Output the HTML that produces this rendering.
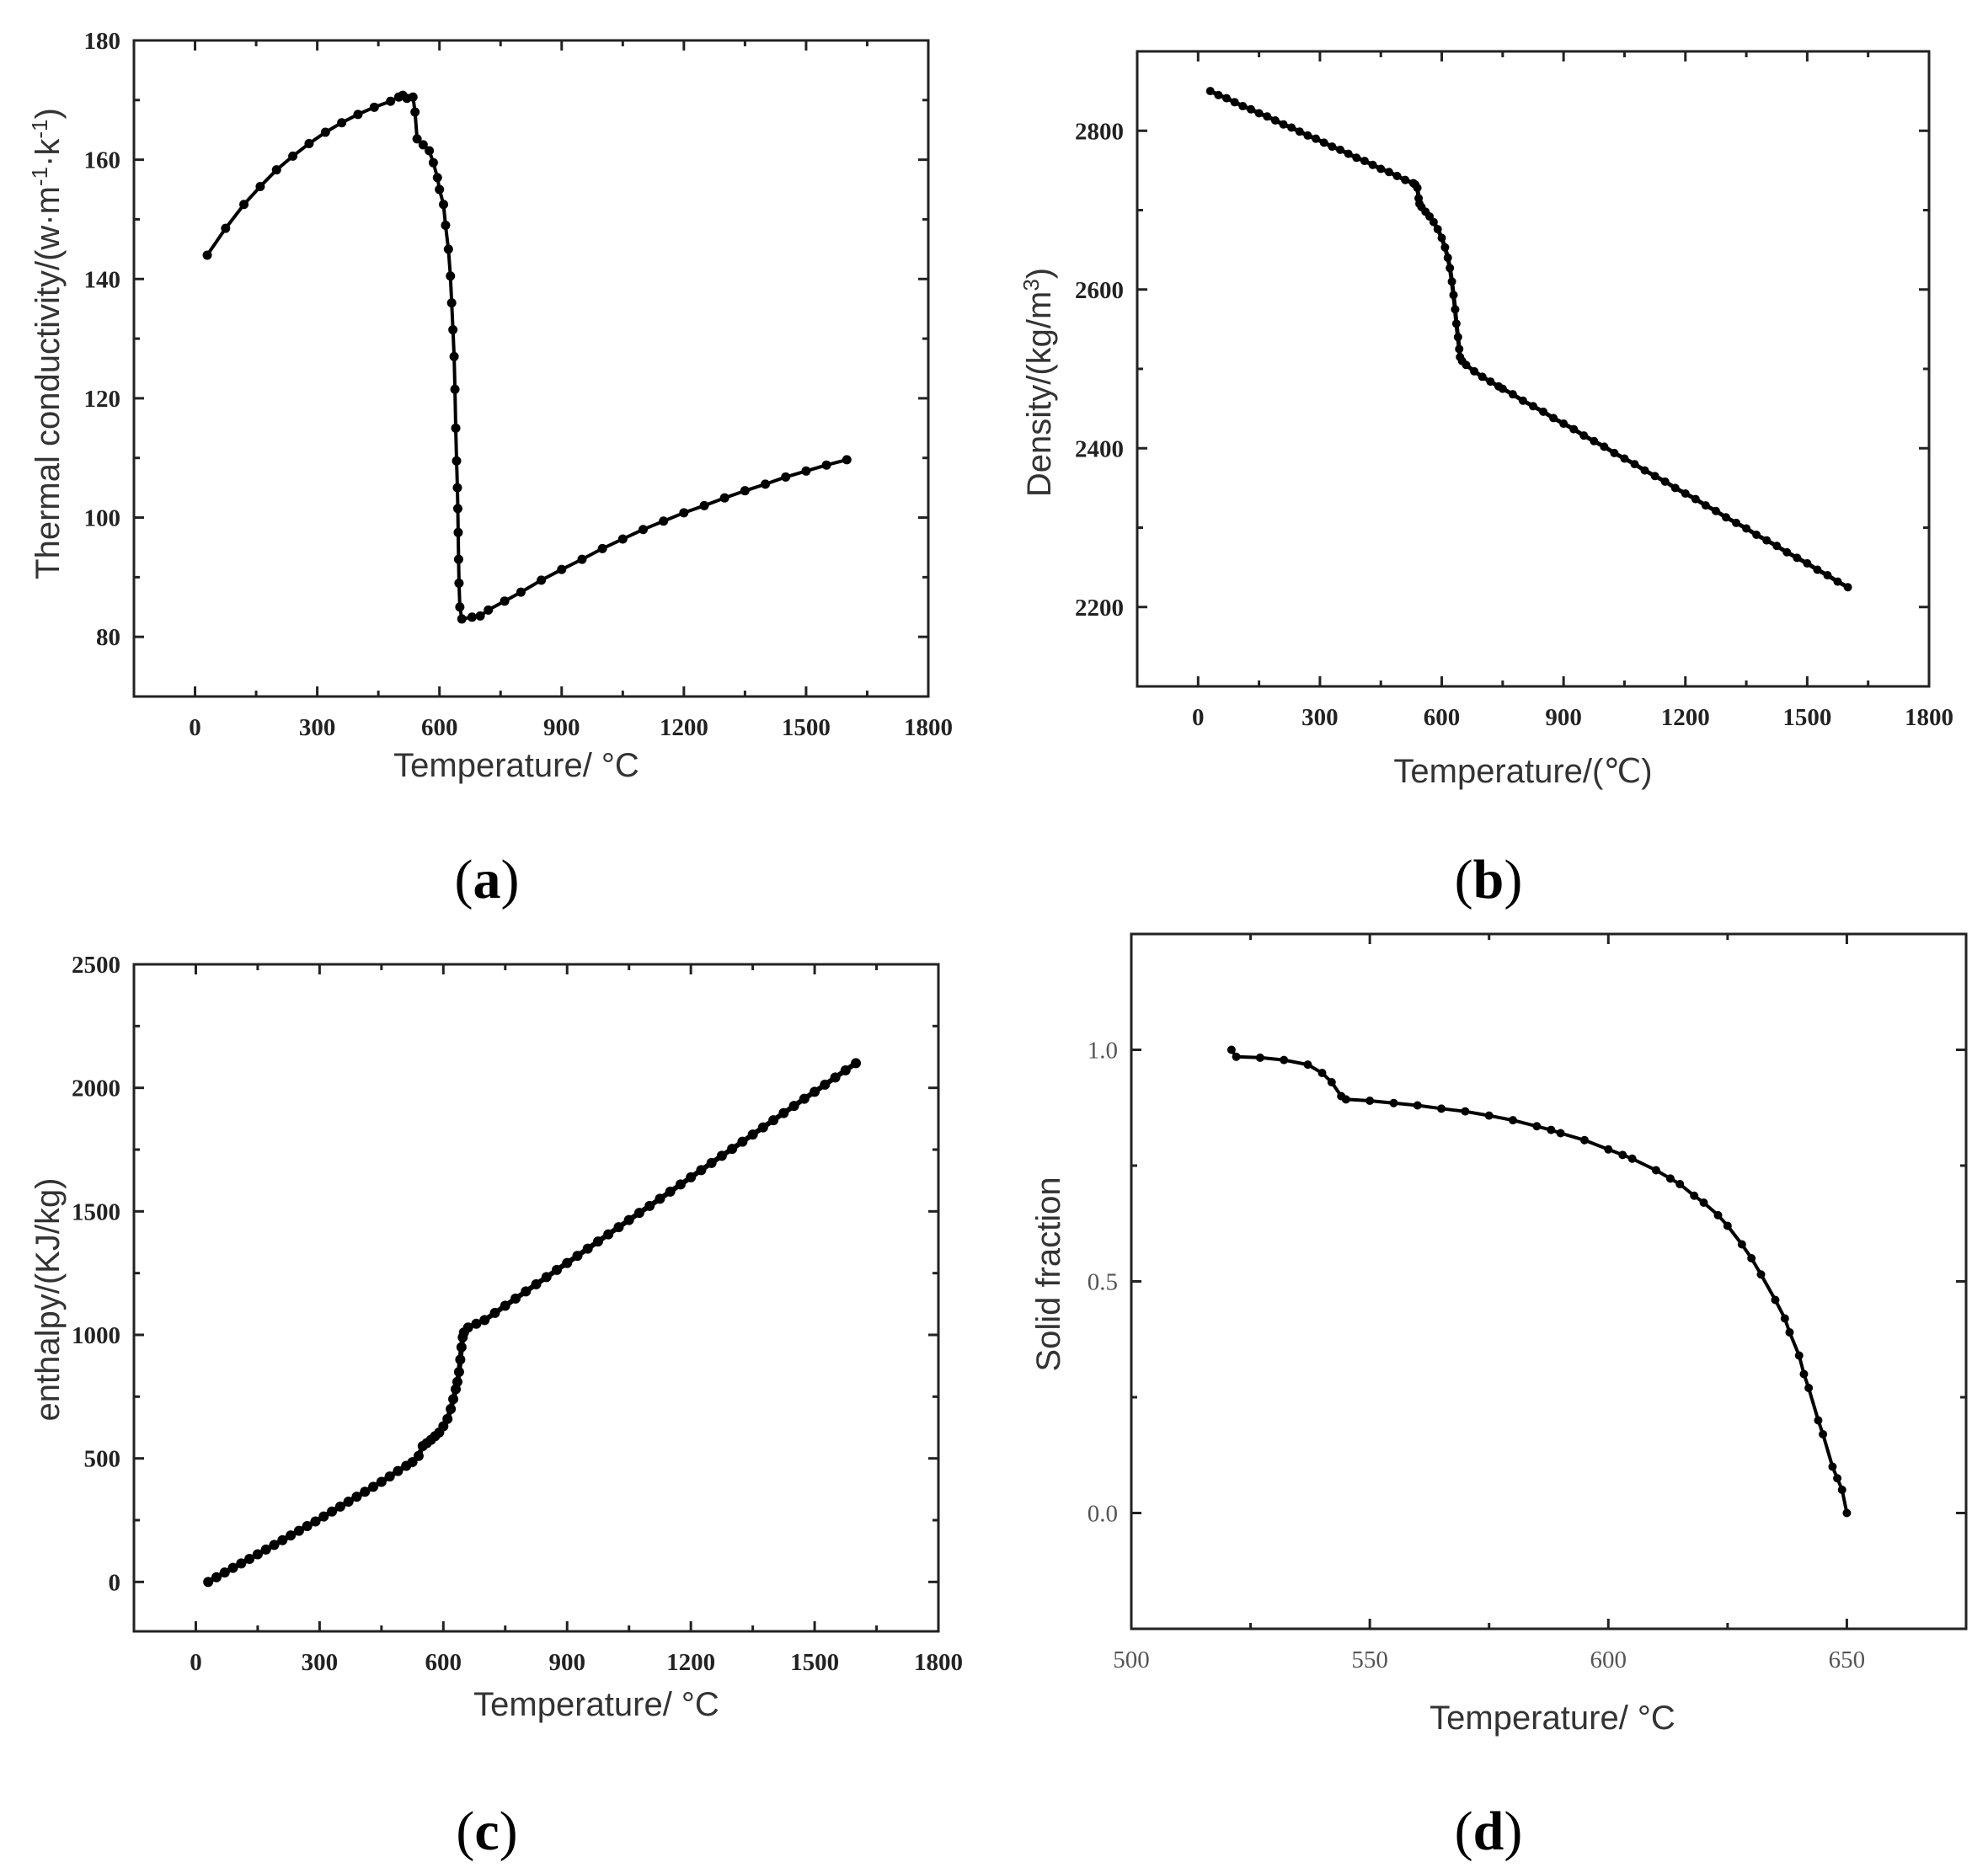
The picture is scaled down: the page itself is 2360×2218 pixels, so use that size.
<!DOCTYPE html>
<html><head><meta charset="utf-8">
<style>
html,body{margin:0;padding:0;background:#fff;}
svg{display:block;}
.tk{font-family:"Liberation Serif",serif;font-weight:bold;font-size:29px;fill:#222;}
.tkd{font-family:"Liberation Serif",serif;font-size:29px;fill:#555;}
.ttl{font-family:"Liberation Sans",sans-serif;font-size:40px;fill:#333;}
.lab{font-family:"Liberation Serif",serif;font-size:66px;fill:#000;}
</style></head>
<body>
<svg id="fig" width="2360" height="2218" viewBox="0 0 2360 2218" xmlns="http://www.w3.org/2000/svg">
<text class="lab" x="578" y="1066" text-anchor="middle">(<tspan font-weight="bold">a</tspan>)</text>
<text class="lab" x="1767" y="1066" text-anchor="middle">(<tspan font-weight="bold">b</tspan>)</text>
<text class="lab" x="578" y="2196" text-anchor="middle">(<tspan font-weight="bold">c</tspan>)</text>
<text class="lab" x="1767" y="2196" text-anchor="middle">(<tspan font-weight="bold">d</tspan>)</text>
</svg>
<script>
// Panel a: thermal conductivity
const aTemps=[30,75,120,160,200,240,280,320,360,400,440,480,500,510,520,535,540,545,560,575,585,595,600,610,615,622,627,630,633,636,638,640,642,644,645,646,647,648,650,655,680,700,720,760,800,850,900,950,1000,1050,1100,1150,1200,1250,1300,1350,1400,1450,1500,1550,1600];
const aValues=[144,148.5,152.5,155.5,158.3,160.6,162.7,164.6,166.2,167.6,168.8,169.8,170.5,170.8,170.3,170.5,168,163.5,162.5,161.5,159.5,157,155,152.5,149,145,140.5,136,131.5,127,121.5,115,109.5,105,101.5,97.5,93,89,85,83,83.3,83.5,84.5,86,87.5,89.5,91.3,93,94.8,96.4,98,99.4,100.8,102,103.3,104.5,105.6,106.8,107.8,108.8,109.7];
const aXTicks=[0,300,600,900,1200,1500,1800];
const aYTicks=[80,100,120,140,160,180];
// Panel b: density
const bTemps=[30,50,70,90,110,130,150,170,190,210,230,250,270,290,310,330,350,370,390,410,430,450,470,490,510,530,535,540,543,545,550,560,570,580,590,600,608,615,620,625,629,633,636,640,643,645,650,660,680,700,720,740,750,775,800,825,850,875,900,925,950,975,1000,1025,1050,1075,1100,1125,1150,1175,1200,1225,1250,1275,1300,1325,1350,1375,1400,1425,1450,1475,1500,1525,1550,1575,1600];
const bValues=[2850,2845,2841,2836,2831,2827,2822,2818,2813,2808,2804,2799,2794,2790,2785,2780,2776,2771,2766,2762,2757,2752,2748,2743,2738,2734,2732,2728,2715,2708,2704,2698,2692,2685,2676,2665,2653,2640,2627,2610,2593,2575,2557,2540,2525,2515,2510,2505,2497,2490,2484,2478,2475,2468,2460,2453,2446,2438,2431,2424,2416,2409,2402,2394,2387,2380,2372,2365,2358,2350,2343,2336,2328,2321,2313,2306,2299,2291,2284,2277,2269,2262,2255,2247,2240,2232,2225];
const bXTicks=[0,300,600,900,1200,1500,1800];
const bYTicks=[2200,2400,2600,2800];
// Panel c: enthalpy
const cTemps=[30,50,70,90,110,130,150,170,190,210,230,250,270,290,310,330,350,370,390,410,430,450,470,490,510,525,540,550,560,570,580,590,600,610,618,624,630,634,638,641,644,647,650,660,680,700,725,750,775,800,825,850,875,900,925,950,975,1000,1025,1050,1075,1100,1125,1150,1175,1200,1225,1250,1275,1300,1325,1350,1375,1400,1425,1450,1475,1500,1525,1550,1575,1600];
const cValues=[0,19,38,57,75,93,112,131,150,169,188,207,226,245,265,285,305,325,345,365,385,405,427,449,470,485,510,550,562,575,590,605,630,660,700,740,780,810,850,900,950,990,1010,1030,1045,1060,1089,1118,1147,1176,1205,1234,1263,1291,1320,1349,1378,1407,1436,1465,1494,1522,1551,1580,1609,1638,1667,1696,1725,1753,1782,1811,1840,1869,1898,1927,1956,1984,2013,2042,2071,2100];
const cXTicks=[0,300,600,900,1200,1500,1800];
const cYTicks=[0,500,1000,1500,2000,2500];
// Panel d: solid fraction
const dTemps=[521,522,527,532,537,540,542,544,545,550,555,560,565,570,575,580,585,588,590,595,600,603,605,610,613,615,618,620,623,625,628,630,632,635,637,638,640,641,642,644,645,647,648,649,650];
const dValues=[1.0,0.985,0.983,0.978,0.968,0.95,0.93,0.9,0.893,0.89,0.885,0.88,0.873,0.867,0.858,0.848,0.835,0.827,0.82,0.805,0.785,0.773,0.765,0.74,0.722,0.71,0.685,0.67,0.643,0.62,0.58,0.55,0.515,0.46,0.42,0.39,0.34,0.3,0.27,0.2,0.17,0.1,0.075,0.05,0.0];
const dXTicks=[500,550,600,650];
const dYTicks=[0.0,0.5,1.0];
const dYLabels=['0.0','0.5','1.0'];

const NS='http://www.w3.org/2000/svg';
const fig=document.getElementById('fig');
function mk(tag,attrs,parent){const e=document.createElementNS(NS,tag);for(const k in attrs)e.setAttribute(k,attrs[k]);(parent||fig).appendChild(e);return e;}

function panel(id,box,xr,yr,xt,yt,ylabels,minorX,minorY,temps,vals,xTitle,xTitlePos,yTitle,yTitlePos,tkClass,titleSize,r,lw){
  const g=mk('g',{});
  
  
  const X=v=>box.l+(v-xr[0])/(xr[1]-xr[0])*(box.r-box.l);
  const Y=v=>box.b-(v-yr[0])/(yr[1]-yr[0])*(box.b-box.t);
  const fr=mk('rect',{x:box.l,y:box.t,width:box.r-box.l,height:box.b-box.t,fill:'none',stroke:'#222','stroke-width':3},g);
  
  
  const tg=mk('g',{stroke:'#222','stroke-width':3},g);
  
  
  const xsAll=[];for(let v=xt[0];v<=xr[1]+1e-9;v+=minorX)xsAll.push(v);
  for(let v=xt[0]-minorX;v>xr[0];v-=minorX)xsAll.push(v);
  xsAll.forEach(v=>{const x=X(v);if(x<box.l+2||x>box.r-2)return;const maj=xt.some(t=>Math.abs(t-v)<1e-6);const L=maj?12:7;
    mk('line',{x1:x,y1:box.b,x2:x,y2:box.b-L},tg);mk('line',{x1:x,y1:box.t,x2:x,y2:box.t+L},tg);});
  const ysAll=[];for(let v=yt[0];v<=yr[1]+1e-9;v+=minorY)ysAll.push(v);
  for(let v=yt[0]-minorY;v>yr[0];v-=minorY)ysAll.push(v);
  ysAll.forEach(v=>{const y=Y(v);if(y<box.t+2||y>box.b-2)return;const maj=yt.some(t=>Math.abs(t-v)<1e-6);const L=maj?12:7;
    mk('line',{x1:box.l,y1:y,x2:box.l+L,y2:y},tg);mk('line',{x1:box.r,y1:y,x2:box.r-L,y2:y},tg);});
  xt.forEach(v=>{const t=mk('text',{x:X(v),y:box.b+46,'text-anchor':'middle',class:tkClass},g);t.textContent=String(v);
    
    });
  yt.forEach((v,i)=>{const t=mk('text',{x:box.l-16,y:Y(v)+10,'text-anchor':'end',class:tkClass},g);t.textContent=ylabels?ylabels[i]:String(v);
    
    });
  const pts=temps.map((t,i)=>X(t).toFixed(1)+','+Y(vals[i]).toFixed(1)).join(' ');
  const pl=mk('polyline',{points:pts,fill:'none',stroke:'#000','stroke-width':lw,'stroke-linejoin':'round'},g);
  
  
  temps.forEach((t,i)=>{const c=mk('circle',{cx:X(t),cy:Y(vals[i]),r:r,fill:'#000'},g);
    
    });
  const xt1=mk('text',{x:xTitlePos[0],y:xTitlePos[1],'text-anchor':'middle',class:'ttl','font-size':titleSize},g);xt1.textContent=xTitle;
  
  
  const yt1=mk('text',{x:0,y:0,'text-anchor':'middle',class:'ttl',transform:'translate('+yTitlePos[0]+','+yTitlePos[1]+') rotate(-90)'},g);
  if(typeof yTitle==='string'){yt1.textContent=yTitle;}else{yt1.innerHTML=yTitle.html;}
  
  
}
panel('a',{l:159,r:1102,t:48,b:827},[-150,1800],[70,180],aXTicks,aYTicks,null,150,10,aTemps,aValues,
 'Temperature/ °C',[613,922],{html:'Thermal conductivity/(w·m<tspan font-size="26" dy="-14">-1</tspan><tspan dy="14">·k</tspan><tspan font-size="26" dy="-14">-1</tspan><tspan dy="14">)</tspan>'},[70,408],'tk',40,5.5,4);
panel('b',{l:1350,r:2290,t:61,b:815},[-150,1800],[2100,2900],bXTicks,bYTicks,null,150,100,bTemps,bValues,
 'Temperature/(℃)',[1808,929],{html:'Density/(kg/m<tspan font-size="26" dy="-14">3</tspan><tspan dy="14">)</tspan>'},[1247,454],'tk',40,5,5);
panel('c',{l:159,r:1114,t:1145,b:1937},[-150,1800],[-200,2500],cXTicks,cYTicks,null,150,250,cTemps,cValues,
 'Temperature/ °C',[708,2037],'enthalpy/(KJ/kg)',[70,1543],'tk',40,6,6);
panel('d',{l:1343,r:2334,t:1109,b:1934},[500,675],[-0.25,1.25],dXTicks,dYTicks,dYLabels,25,0.25,dTemps,dValues,
 'Temperature/ °C',[1843,2053],'Solid fraction',[1258,1513],'tkd',46,5,4);
</script>
</body></html>
